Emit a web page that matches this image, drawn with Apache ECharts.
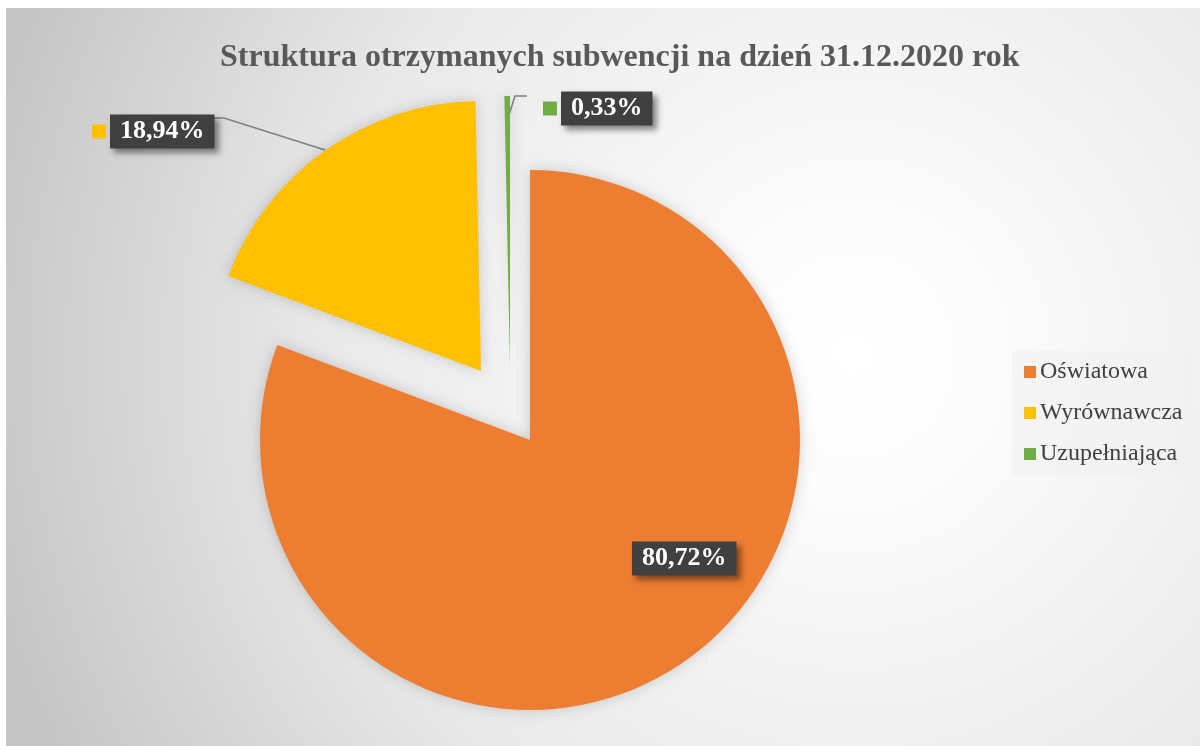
<!DOCTYPE html>
<html>
<head>
<meta charset="utf-8">
<script src="https://cdn.jsdelivr.net/npm/echarts@6/dist/echarts.min.js"></script>
<style>
  html, body { margin: 0; padding: 0; background: #ffffff; }
  #main { width: 1200px; height: 746px; }
</style>
</head>
<body>
<div id="main"></div>
<script>
// dane wykresu
var categories = ['Oświatowa', 'Wyrównawcza', 'Uzupełniająca']
var shares = [80.72, 18.94, 0.33]
var colors = ['#ed7d31', '#ffc000', '#70ad47']

// gdzie leza wycinki (Excel "wysuniete") i etykiety
var centers = [[530, 440], [481, 371], [510, 366]]
var labelPos = [
    { x: 632, y: 558.5, line: null },
    { x: 92, y: 131.5, line: [[325, 150], [224, 118], [214, 118]] },
    { x: 543, y: 108.5, line: [[509, 115], [515, 96], [527, 96]] }
]

function fmt (v) {
    return v.toFixed(2).replace('.', ',') + '%'
}

var serif = '"Liberation Serif", "DejaVu Serif", serif'

function makeSeries (k) {
    return {
        name: categories[k],
        type: 'pie',
        radius: 270,
        center: centers[k],
        startAngle: 90,
        clockwise: true,
        avoidLabelOverlap: false,
        emphasis: { disabled: true },
        itemStyle: {
            shadowBlur: 14,
            shadowColor: 'rgba(0,0,0,0.18)'
        },
        label: {
            position: k === 0 ? 'inside' : 'outside',
            formatter: function (p) {
                if (k === 0) return '{b|' + fmt(p.value) + '}'
                return '{k|}{s|}{b|' + fmt(p.value) + '}'
            },
            rich: {
                k: { width: 14, height: 14, backgroundColor: colors[k] },
                s: { width: 4, height: 14 },
                b: {
                    fontFamily: serif,
                    fontWeight: 'bold',
                    fontSize: 26,
                    color: '#ffffff',
                    backgroundColor: '#404040',
                    padding: [4, 10],
                    lineHeight: 31,
                    shadowBlur: 6,
                    shadowOffsetX: 4,
                    shadowOffsetY: 4,
                    shadowColor: 'rgba(0,0,0,0.45)'
                }
            }
        },
        labelLine: {
            show: k > 0,
            lineStyle: { color: '#7f7f7f', width: 1.5 }
        },
        labelLayout: function (params) {
            var lp = labelPos[k]
            var res = { x: lp.x, y: lp.y, align: 'left', verticalAlign: 'middle' }
            if (lp.line) res.labelLinePoints = lp.line
            return res
        },
        data: shares.map(function (v, i) {
            return {
                value: v,
                name: categories[i],
                itemStyle: { color: i === k ? colors[i] : 'transparent' },
                label: { show: i === k },
                labelLine: { show: i === k && k > 0 }
            }
        })
    }
}

var chart = echarts.init(document.getElementById('main'))
var option = {
    animation: false,
    graphic: [{
        type: 'rect',
        left: 6,
        top: 8,
        z: -10,
        silent: true,
        shape: { width: 1194, height: 738 },
        style: {
            fill: new echarts.graphic.RadialGradient(0.71, 0.47, 1.2, [
                { offset: 0, color: '#ffffff' },
                { offset: 0.15, color: '#fcfcfc' },
                { offset: 0.6, color: '#e9e9e9' },
                { offset: 1, color: '#c6c6c6' }
            ])
        }
    }],
    title: {
        text: 'Struktura otrzymanych subwencji na dzień 31.12.2020 rok',
        left: 220,
        top: 42,
        padding: 0,
        textStyle: {
            fontFamily: serif,
            fontWeight: 'bold',
            fontSize: 32,
            color: '#595959'
        }
    },
    legend: {
        orient: 'vertical',
        left: 1012,
        top: 351,
        padding: [9, 12, 10, 12],
        itemGap: 17,
        itemWidth: 12,
        itemHeight: 12,
        icon: 'rect',
        backgroundColor: 'rgba(240,240,240,0.55)',
        textStyle: {
            fontFamily: serif,
            fontSize: 24,
            lineHeight: 24,
            color: '#404040',
            padding: [0, 0, 0, -1]
        },
        data: categories.map(function (c, i) {
            return { name: c, itemStyle: { color: colors[i] } }
        })
    },
    series: [makeSeries(0), makeSeries(1), makeSeries(2)]
}
chart.setOption(option)
</script>
</body>
</html>
